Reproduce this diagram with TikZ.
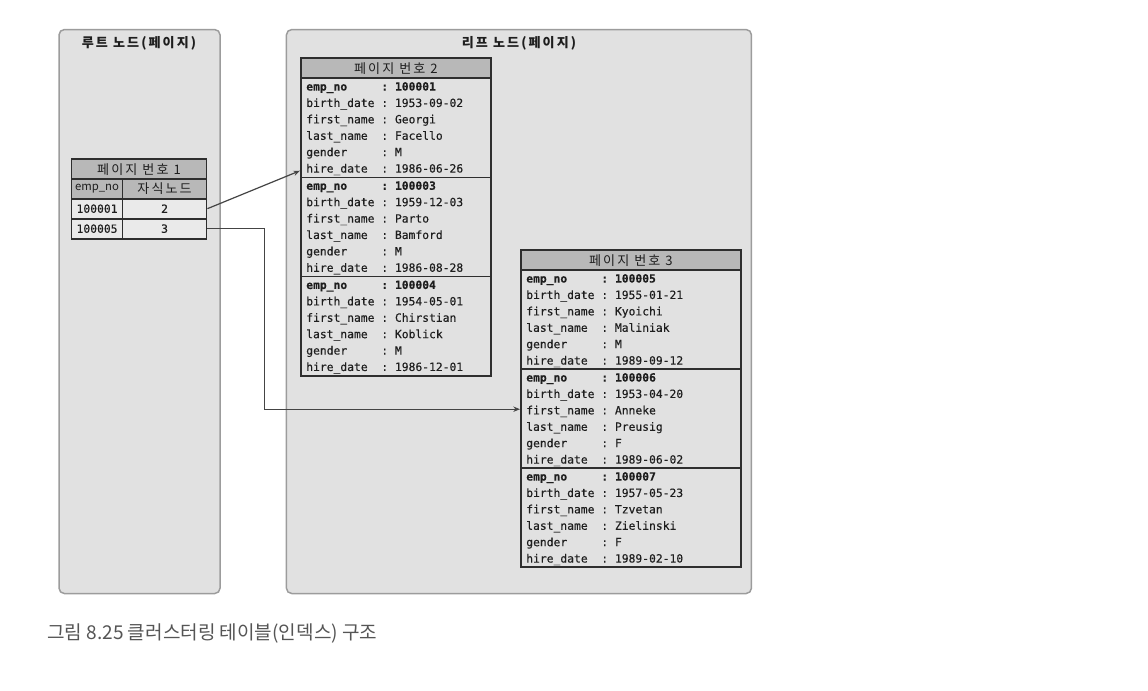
\documentclass[tikz,border=0pt]{standalone}
\usepackage{fontspec}
\setmonofont{DejaVu Sans Mono}[FakeBold=0.3]
\newfontfamily\kr{Noto Sans CJK KR}
\newfontfamily\krsp{Noto Sans CJK KR}[LetterSpace=16]
\usetikzlibrary{arrows.meta,calc}
\definecolor{panelfill}{HTML}{E1E1E1}
\definecolor{panelline}{HTML}{9C9C9C}
\definecolor{headfill}{HTML}{B8B8B8}
\definecolor{rowfill}{HTML}{EAEAEA}
\definecolor{tabline}{HTML}{2E2E2E}
\definecolor{txt}{HTML}{1E1E1E}
\definecolor{capcol}{HTML}{555555}
\definecolor{arrcol}{HTML}{444444}
\newcommand{\recbody}[6]{\begin{tabular}{@{}l@{ }l@{}}\bfseries emp\_no & \bfseries : #1\\ birth\_date & : #2\\ first\_name & : #3\\ last\_name & : #4\\ gender & : #5\\ hire\_date & : #6\end{tabular}}
\begin{document}
\begin{tikzpicture}[x=0.75pt,y=-0.75pt,
  panel/.style={draw=panelline, fill=panelfill, rounded corners=4pt, line width=1.1pt, anchor=north west, inner sep=0pt},
  ptitle/.style={font=\krsp\bfseries\fontsize{9.8}{11}\selectfont, text=txt, inner sep=0pt},
  headbox/.style={draw=tabline, fill=headfill, line width=1.3pt, anchor=north west, inner sep=0pt, font=\krsp\fontsize{9.8}{11}\selectfont, text=txt},
  cellbox/.style={draw=tabline, fill=rowfill, line width=1.3pt, anchor=north west, inner sep=0pt, font=\ttfamily\fontsize{8.5}{10}\selectfont, text=txt},
  recbox/.style={draw=tabline, line width=1.3pt, anchor=north west, inner sep=0pt},
  rectext/.style={anchor=north west, inner sep=0pt, font=\ttfamily\fontsize{8.5}{12.3}\selectfont, text=txt},
  arr/.style={draw=arrcol, line width=0.9pt, -{Stealth[length=5pt,width=4pt]}}]
\useasboundingbox[fill=white] (0,0) rectangle (1148,690);

% panels
\node[panel, minimum width=120.75pt, minimum height=423pt] (rootp) at (58.3,28.8) {};
\node[panel, minimum width=348.75pt, minimum height=423pt] (leafp) at (285.7,28.8) {};
\node[ptitle] (roott) at (139,43.5) {루트 노드(페이지)};
\node[ptitle] (leaft) at (519,43.5) {리프 노드(페이지)};

% root table
\node[headbox, minimum width=101.25pt, minimum height=15pt] (rh) at (70.7,158.3) {페이지 번호 1};
\node[headbox, minimum width=38.25pt, minimum height=14.6pt, font=\kr\fontsize{8.5}{10}\selectfont] (rc1) at (70.7,178.3) {emp\_no};
\node[headbox, minimum width=63pt, minimum height=14.6pt] (rc2) at (121.7,178.3) {자식노드};
\node[cellbox, minimum width=38.25pt, minimum height=15pt] (r1a) at (70.7,197.8) {100001};
\node[cellbox, minimum width=63pt, minimum height=15pt] (r1b) at (121.7,197.8) {2};
\node[cellbox, minimum width=38.25pt, minimum height=15pt] (r2a) at (70.7,217.8) {100005};
\node[cellbox, minimum width=63pt, minimum height=15pt] (r2b) at (121.7,217.8) {3};

% page 2
\node[headbox, minimum width=142.5pt, minimum height=15pt] (p2h) at (300,57.3) {페이지 번호 2};
\node[recbox, minimum width=142.5pt, minimum height=74.4pt] (p2r1) at (300,77.3) {};
\node[recbox, minimum width=142.5pt, minimum height=74.4pt] (p2r2) at (300,176.5) {};
\node[recbox, minimum width=142.5pt, minimum height=74.4pt] (p2r3) at (300,275.7) {};
\node[rectext] (p2t1) at ($(p2r1.north west)+(6,1.5)$) {\recbody{100001}{1953-09-02}{Georgi}{Facello}{M}{1986-06-26}};
\node[rectext] (p2t2) at ($(p2r2.north west)+(6,1.5)$) {\recbody{100003}{1959-12-03}{Parto}{Bamford}{M}{1986-08-28}};
\node[rectext] (p2t3) at ($(p2r3.north west)+(6,1.5)$) {\recbody{100004}{1954-05-01}{Chirstian}{Koblick}{M}{1986-12-01}};

% page 3
\node[headbox, minimum width=165pt, minimum height=15pt] (p3h) at (520,249.3) {페이지 번호 3};
\node[recbox, minimum width=165pt, minimum height=74.3pt] (p3r1) at (520,269.3) {};
\node[recbox, minimum width=165pt, minimum height=74.3pt] (p3r2) at (520,368.3) {};
\node[recbox, minimum width=165pt, minimum height=74.3pt] (p3r3) at (520,467.3) {};
\node[rectext] (p3t1) at ($(p3r1.north west)+(6,1.5)$) {\recbody{100005}{1955-01-21}{Kyoichi}{Maliniak}{M}{1989-09-12}};
\node[rectext] (p3t2) at ($(p3r2.north west)+(6,1.5)$) {\recbody{100006}{1953-04-20}{Anneke}{Preusig}{F}{1989-06-02}};
\node[rectext] (p3t3) at ($(p3r3.north west)+(6,1.5)$) {\recbody{100007}{1957-05-23}{Tzvetan}{Zielinski}{F}{1989-02-10}};

% connectors
\draw[arr] (r1b.east) -- ($(p2r1.south west)+(0,-7.5)$);
\draw[arr] (r2b.east) -- ++(57,0) |- ($(p3r2.west)+(0,-9.5)$);

% caption
\node[anchor=west, inner sep=0pt, font=\kr\fontsize{14.3}{16}\selectfont, text=capcol] (cap) at (47,633) {그림 8.25 클러스터링 테이블(인덱스) 구조};
\end{tikzpicture}
\end{document}
